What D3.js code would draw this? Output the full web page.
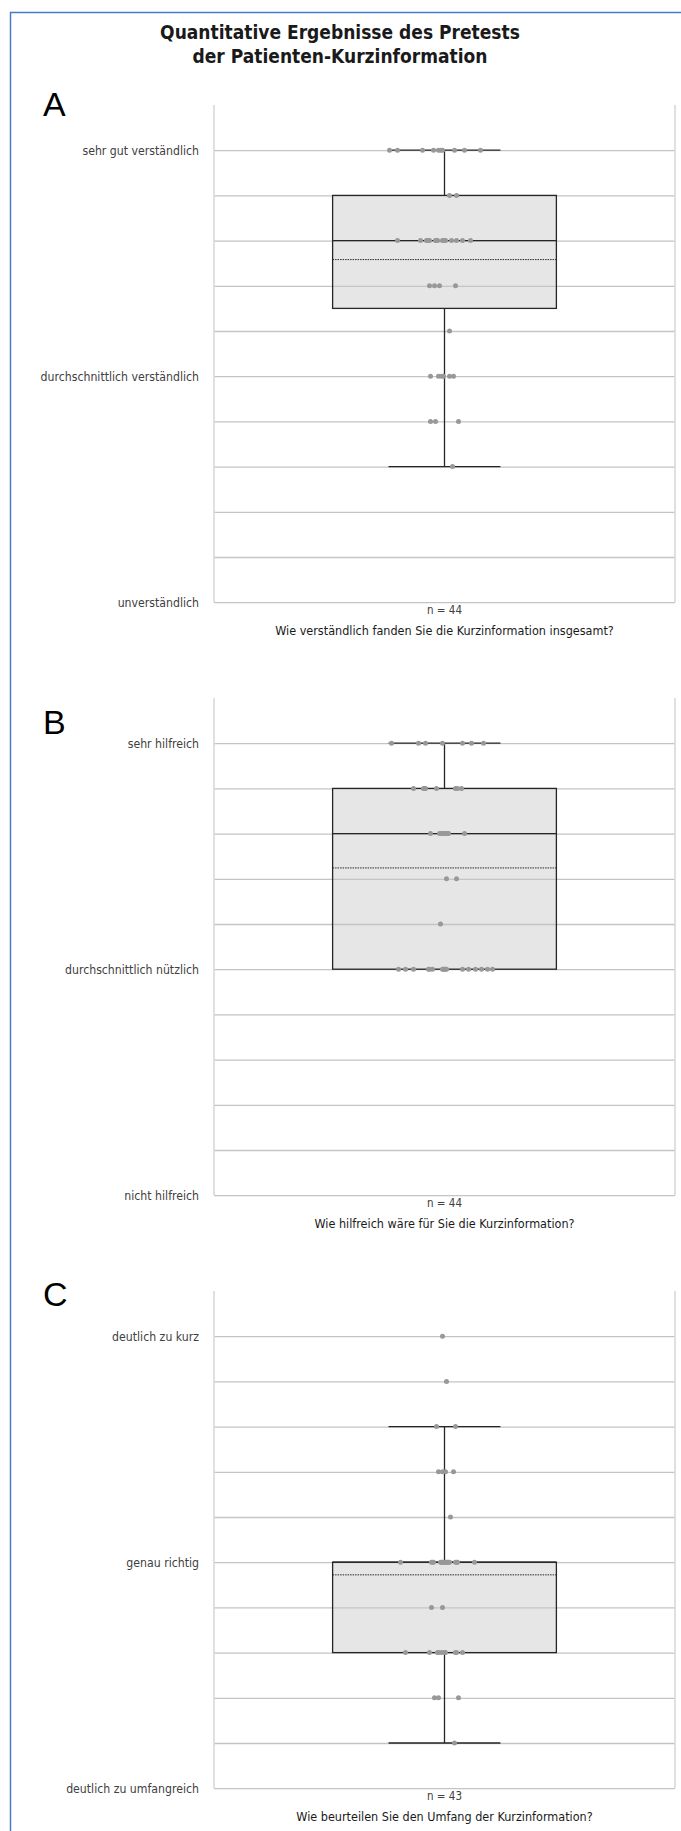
<!DOCTYPE html>
<html>
<head>
<meta charset="utf-8">
<script src="https://cdn.jsdelivr.net/npm/d3@7"></script>
<style>
  body { margin: 0; background: #fff; }
  svg text { font-family: "DejaVu Sans Condensed", "DejaVu Sans", sans-serif; font-stretch: condensed; }
</style>
</head>
<body>
<script>
// ---- data ----
let titleLines = ["Quantitative Ergebnisse des Pretests", "der Patienten-Kurzinformation"];
let panelLetters = ["A", "B", "C"];
let questions = [
  "Wie verständlich fanden Sie die Kurzinformation insgesamt?",
  "Wie hilfreich wäre für Sie die Kurzinformation?",
  "Wie beurteilen Sie den Umfang der Kurzinformation?"
];
let sampleSizes = [44, 44, 43];

// scale 0..10, only three steps carry a label
let labelValues = [10, 5, 0];
let labelsA = ["sehr gut verständlich", "durchschnittlich verständlich", "unverständlich"];
let labelsB = ["sehr hilfreich", "durchschnittlich nützlich", "nicht hilfreich"];
let labelsC = ["deutlich zu kurz", "genau richtig", "deutlich zu umfangreich"];

// box statistics per panel (A, B, C)
let whiskerLow  = [3, 5, 1];
let q1          = [6.5, 5, 3];
let median      = [8, 8, 5];
let q3          = [9, 9, 5];
let whiskerHigh = [10, 10, 8];
let mean        = [7.58, 7.24, 4.72];

// single answers and their horizontal jitter
let answersA = [10,10,10,10,10,10,10,10,10,10, 9,9,
  8,8,8,8,8,8,8,8,8,8,8,8,8,8,8,8,8, 7,7,7,7, 6, 5,5,5,5,5,5, 4,4,4, 3];
let jitterA = [-55,-47,-22,-11,-6,-4,-2,10,20,36, 5,12,
  -47,-24,-18,-17,-16,-15,-9,-8,-7,-2,-1,0,1,7,12,18,26, -15,-10,-5,11, 5, -14,-6,-3,-1,5,9, -14,-9,14, 8];

let answersB = [10,10,10,10,10,10,10, 9,9,9,9,9,9,9,9, 8,8,8,8,8,8,8,8,8, 7,7, 6,
  5,5,5,5,5,5,5,5,5,5,5,5,5,5,5,5,5];
let jitterB = [-53,-26,-19,-2,18,27,39, -31,-21,-20,-19,-8,11,13,17, -14,-5,-3,-2,0,1,3,4,20, 2,12, -4,
  -46,-39,-31,-16,-15,-12,-2,-1,0,1,2,18,24,31,37,43,48];

let answersC = [10, 9, 8,8, 7,7,7,7, 6,
  5,5,5,5,5,5,5,5,5,5,5,5,5,5,5,5,5,5, 4,4, 3,3,3,3,3,3,3,3,3,3, 2,2,2, 1];
let jitterC = [-2, 2, -8,11, -6,-2,1,9, 6,
  -44,-13,-12,-11,-4,-3,-2,-1,0,1,2,3,4,5,11,12,13,30, -13,-2, -39,-15,-7,-6,-3,0,1,11,12,18, -10,-6,14, 10];

// ---- layout ----
let W = 681, H = 1831;
let plotLeft = 214, plotRight = 675;
let step = 45.2;
let plotH = 11 * step;
let panelTops = [105, 698, 1291];
let letterY = [116, 734, 1306];

let svg = d3.select("body").append("svg")
  .attr("width", W).attr("height", H);

// blue frame (left and top only are visible)
svg.append("path")
  .attr("d", "M10.5," + H + " L10.5,12.5 L" + W + ",12.5")
  .attr("fill", "none").attr("stroke", "#4a7ac8").attr("stroke-width", 1.5);

svg.selectAll(".title").data(titleLines).enter().append("text")
  .attr("class", "title")
  .attr("x", 340).attr("y", function(d, i) { return 39 + i * 24; })
  .attr("text-anchor", "middle")
  .style("font-weight", "bold").style("font-size", "19px").attr("fill", "#1a1a1a")
  .text(function(d) { return d; });

let panels = [
  {labels: labelsA, answers: answersA, jitter: jitterA},
  {labels: labelsB, answers: answersB, jitter: jitterB},
  {labels: labelsC, answers: answersC, jitter: jitterC}
];

panels.forEach(function(p, i) {
  let top = panelTops[i];
  let bottom = top + plotH;
  let g = svg.append("g");

  let y = d3.scaleLinear().domain([0, 11]).range([bottom, top]);
  let x = d3.scaleBand().domain(["n = " + sampleSizes[i]])
    .range([plotLeft, plotRight]).paddingInner(0).paddingOuter(0.53);
  let cx = x(x.domain()[0]) + x.bandwidth() / 2;
  let jx = d3.scaleLinear().domain([-60, 60]).range([cx - 60, cx + 60]);
  let bw = x.bandwidth();
  let capHalf = bw / 4;

  // panel letter
  g.append("text").attr("x", 43).attr("y", letterY[i])
    .style("font-family", "'Liberation Sans', Arial, sans-serif")
    .style("font-stretch", "normal")
    .style("font-size", "34px").attr("fill", "#000")
    .text(panelLetters[i]);

  // box fill
  g.append("rect")
    .attr("x", x(x.domain()[0])).attr("width", bw)
    .attr("y", y(q3[i])).attr("height", y(q1[i]) - y(q3[i]))
    .attr("fill", "#e6e6e6");

  // grid
  let grid = g.append("g").attr("transform", "translate(" + plotLeft + ",0)")
    .call(d3.axisLeft(y).tickValues(d3.range(0, 11)).tickSize(-(plotRight - plotLeft)).tickFormat(""));
  grid.select(".domain").remove();
  grid.selectAll("line").attr("stroke", "#c4c4c4").attr("stroke-width", 1.3);

  // side borders
  g.selectAll(".border").data([plotLeft, plotRight]).enter().append("line")
    .attr("x1", function(d) { return d; }).attr("x2", function(d) { return d; })
    .attr("y1", top).attr("y2", bottom)
    .attr("stroke", "#d9d9d9").attr("stroke-width", 1.6);

  // category labels
  let yl = g.append("g").attr("transform", "translate(" + plotLeft + ",0)")
    .call(d3.axisLeft(y).tickValues(labelValues).tickSize(0).tickPadding(15)
      .tickFormat(function(d, k) { return p.labels[k]; }));
  yl.select(".domain").remove();
  yl.selectAll("text").style("font-size", "12.2px").attr("fill", "#404040");

  // n label
  let xa = g.append("g").attr("transform", "translate(0," + bottom + ")")
    .call(d3.axisBottom(x).tickSize(0).tickPadding(4));
  xa.select(".domain").remove();
  xa.selectAll("text").style("font-size", "11.5px").attr("fill", "#404040");

  // question
  g.append("text").attr("x", cx).attr("y", bottom + 32.5)
    .attr("text-anchor", "middle").style("font-size", "12.5px").attr("fill", "#1a1a1a")
    .text(questions[i]);

  let dark = "#262626";
  // whiskers
  g.append("line").attr("x1", cx).attr("x2", cx)
    .attr("y1", y(whiskerHigh[i])).attr("y2", y(q3[i]))
    .attr("stroke", dark).attr("stroke-width", 1.3);
  g.append("line").attr("x1", cx).attr("x2", cx)
    .attr("y1", y(q1[i])).attr("y2", y(whiskerLow[i]))
    .attr("stroke", dark).attr("stroke-width", 1.3);
  [whiskerHigh[i], whiskerLow[i]].forEach(function(v) {
    if (v === q1[i] || v === q3[i]) return;
    g.append("line").attr("x1", cx - capHalf).attr("x2", cx + capHalf)
      .attr("y1", y(v)).attr("y2", y(v))
      .attr("stroke", dark).attr("stroke-width", 1.3);
  });

  // box outline, median, mean
  g.append("rect")
    .attr("x", x(x.domain()[0])).attr("width", bw)
    .attr("y", y(q3[i])).attr("height", y(q1[i]) - y(q3[i]))
    .attr("fill", "none").attr("stroke", dark).attr("stroke-width", 1.3);
  g.append("line").attr("x1", x(x.domain()[0])).attr("x2", x(x.domain()[0]) + bw)
    .attr("y1", y(median[i])).attr("y2", y(median[i]))
    .attr("stroke", dark).attr("stroke-width", 1.3);
  g.append("line").attr("x1", x(x.domain()[0])).attr("x2", x(x.domain()[0]) + bw)
    .attr("y1", y(mean[i])).attr("y2", y(mean[i]))
    .attr("stroke", dark).attr("stroke-width", 1).attr("stroke-dasharray", "1.5,1");

  // single answers
  g.selectAll(".dot").data(p.answers).enter().append("circle")
    .attr("class", "dot")
    .attr("cx", function(d, k) { return jx(p.jitter[k]); })
    .attr("cy", function(d) { return y(d); })
    .attr("r", 2.5)
    .attr("fill", "#989898");
});
</script>
</body>
</html>
